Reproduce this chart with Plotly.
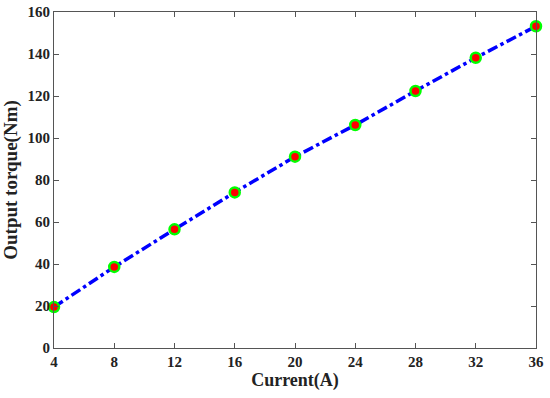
import plotly.graph_objects as go

corriente = [4, 8, 12, 16, 20, 24, 28, 32, 36]
par_salida = [19.5, 38.6, 56.5, 74.1, 91.1, 106.2, 122.4, 138.2, 153.2]
ticks_x = [4, 8, 12, 16, 20, 24, 28, 32, 36]
ticks_y = [0, 20, 40, 60, 80, 100, 120, 140, 160]

fuente = dict(family="Liberation Serif", size=19, color="#222222")

fig = go.Figure()
fig.add_trace(go.Scatter(
    x=corriente, y=par_salida,
    mode="lines+markers",
    line=dict(color="#0000ff", width=3.5, dash="dashdot"),
    marker=dict(size=10, color="#ff0000", line=dict(color="#00ff00", width=2.5)),
    showlegend=False,
    cliponaxis=False,
))

eje = dict(
    showline=True, linecolor="#555555", linewidth=1, mirror="ticks",
    ticks="inside", ticklen=5, tickcolor="#555555",
    showgrid=False, zeroline=False, automargin=False,
    tickfont=dict(family="Liberation Serif", size=15, color="#222222", weight="bold"),
)

fig.update_xaxes(eje, range=[4, 36], tickvals=ticks_x,
                 title=dict(text="<b>Current(A)</b>", font=dict(fuente, size=18), standoff=4))
fig.update_yaxes(eje, range=[0, 160], tickvals=ticks_y,
                 title=dict(text="<b>Output torque(Nm)</b>", font=fuente, standoff=6))

fig.update_layout(
    width=550, height=398,
    margin=dict(l=54, r=14, t=12, b=50),
    plot_bgcolor="white", paper_bgcolor="white",
)

# quitar el margen por defecto del body
fig.write_html("out.html", config={"displayModeBar": False},
               post_script="document.body.style.margin='0';")
